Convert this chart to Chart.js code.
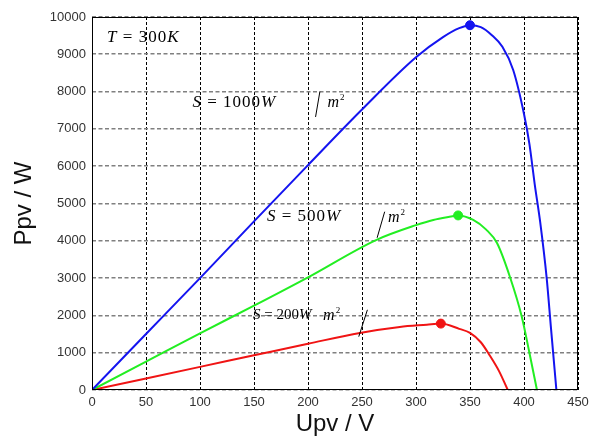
<!DOCTYPE html>
<html>
<head>
<meta charset="utf-8">
<script src="https://cdn.jsdelivr.net/npm/chart.js@4"></script>
<style>
  body { margin: 0; background: #fff; }
  #wrap { width: 595px; height: 439px; }
</style>
</head>
<body>
<div id="wrap"><canvas id="pvChart" width="595" height="439"></canvas></div>
<script>
// curva P-U do painel, T = 300K
const xTicks = [0, 50, 100, 150, 200, 250, 300, 350, 400, 450];
const yTicks = [0, 1000, 2000, 3000, 4000, 5000, 6000, 7000, 8000, 9000, 10000];

const u1000 = [0, 50, 100, 150, 200, 250, 300, 325, 340, 350, 360, 370, 380, 390, 400, 405, 410, 415, 421, 425, 430];
const p1000 = [0, 1500, 3000, 4520, 6030, 7520, 8920, 9460, 9700, 9780, 9730, 9520, 9200, 8580, 7400, 6600, 5500, 4500, 3000, 1650, 0];

const u500 = [0, 50, 100, 150, 200, 263, 300, 316, 330, 339, 353, 365, 375, 387, 398, 405, 412];
const p500 = [0, 760, 1520, 2260, 3020, 4020, 4420, 4560, 4640, 4680, 4560, 4300, 3940, 3030, 1960, 1000, 0];

const u200 = [0, 50, 100, 150, 200, 248, 285, 310, 323, 340, 350, 360, 368, 377, 385];
const p200 = [0, 310, 620, 930, 1240, 1530, 1690, 1750, 1780, 1640, 1530, 1280, 940, 500, 0];

// pontos de máxima potência
const mppU = [350, 339, 323];
const mppP = [9780, 4680, 1780];

const colors = ["#1414f0", "#22ee22", "#f01414"];

function pts(us, ps) {
  return us.map((u, i) => ({ x: u, y: ps[i] }));
}

function curve(us, ps, color) {
  return {
    data: pts(us, ps),
    borderColor: color,
    borderWidth: 2,
    pointRadius: 0,
    fill: false,
    cubicInterpolationMode: 'monotone'
  };
}

function mpp(i) {
  return {
    data: [{ x: mppU[i], y: mppP[i] }],
    showLine: false,
    pointRadius: 4.5,
    pointBackgroundColor: colors[i],
    pointBorderColor: colors[i]
  };
}

// rótulos: [texto, itálico]
const labels = [
  { x: 14, y: 9460, size: 17, sp: 1, runs: [["T", 1], [" = 300", 0], ["K", 1]] },
  { x: 93, y: 7720, size: 17, sp: 1, runs: [["S", 1], [" = 1000", 0], ["W", 1]] },
  { x: 162, y: 4640, size: 17, sp: 1, runs: [["S", 1], [" = 500", 0], ["W", 1]] },
  { x: 149, y: 2010, size: 15, sp: 0, runs: [["S", 1], [" = 200", 0], ["W", 1]] }
];
const units = [
  { x: 218, y: 7720, s: [211, 8000, 207, 7320] },
  { x: 274, y: 4640, s: [271, 4780, 264, 4080] },
  { x: 214, y: 2010, s: [255, 2150, 247, 1430] }
];

function drawRuns(ctx, l, x, y) {
  ctx.letterSpacing = l.sp + 'px';
  l.runs.forEach(r => {
    ctx.font = (r[1] ? 'italic ' : '') + l.size + 'px "Liberation Serif"';
    ctx.fillText(r[0], x, y);
    x += ctx.measureText(r[0]).width;
  });
  ctx.letterSpacing = '0px';
}

const annot = {
  id: 'annot',
  afterDatasetsDraw(chart) {
    const ctx = chart.ctx;
    const sx = chart.scales.x, sy = chart.scales.y;
    const a = chart.chartArea;
    ctx.save();
    ctx.fillStyle = '#000';
    ctx.textBaseline = 'middle';
    labels.forEach(l => drawRuns(ctx, l, sx.getPixelForValue(l.x), sy.getPixelForValue(l.y)));
    units.forEach(u => {
      const px = sx.getPixelForValue(u.x), py = sy.getPixelForValue(u.y);
      ctx.font = 'italic 16px "Liberation Serif"';
      ctx.fillText('m', px, py + 1);
      const w = ctx.measureText('m').width;
      ctx.font = '9px "Liberation Serif"';
      ctx.fillText('2', px + w + 1, py - 4);
      ctx.strokeStyle = '#000';
      ctx.lineWidth = 1;
      ctx.beginPath();
      ctx.moveTo(sx.getPixelForValue(u.s[0]), sy.getPixelForValue(u.s[1]));
      ctx.lineTo(sx.getPixelForValue(u.s[2]), sy.getPixelForValue(u.s[3]));
      ctx.stroke();
    });
    // moldura
    ctx.strokeStyle = '#000';
    ctx.lineWidth = 1;
    ctx.strokeRect(a.left + 0.5, a.top + 0.5, a.right - a.left - 1, a.bottom - a.top - 1);
    ctx.restore();
  }
};

new Chart(document.getElementById('pvChart'), {
  type: 'line',
  data: {
    datasets: [
      curve(u1000, p1000, colors[0]),
      curve(u500, p500, colors[1]),
      curve(u200, p200, colors[2]),
      mpp(0), mpp(1), mpp(2)
    ]
  },
  options: {
    responsive: false,
    animation: false,
    layout: { padding: { top: 17, right: 17, left: 0, bottom: 0 } },
    plugins: { legend: { display: false }, tooltip: { enabled: false } },
    scales: {
      x: {
        type: 'linear',
        min: 0,
        max: 450,
        afterBuildTicks: s => { s.ticks = xTicks.map(v => ({ value: v })); },
        afterFit: s => { s.height = 49; },
        ticks: { font: { family: '"Liberation Sans"', size: 13 }, color: '#333', padding: 5, maxRotation: 0, callback: v => String(v) },
        grid: { color: '#000', lineWidth: 1, drawTicks: false },
        border: { display: false, dash: [3, 2] },
        title: { display: true, text: 'Upv / V', font: { family: '"Liberation Sans"', size: 24 }, color: '#111', padding: { top: 0, bottom: 0 } }
      },
      y: {
        min: 0,
        max: 10000,
        afterBuildTicks: s => { s.ticks = yTicks.map(v => ({ value: v })); },
        afterFit: s => { s.width = 92; },
        ticks: { font: { family: '"Liberation Sans"', size: 13 }, color: '#333', padding: 6, callback: v => String(v) },
        grid: { color: '#808080', lineWidth: 1.6, drawTicks: false },
        border: { display: false, dash: [4, 2.5] },
        title: { display: true, text: 'Ppv / W', font: { family: '"Liberation Sans"', size: 24 }, color: '#111', padding: { top: 10, bottom: 0 } }
      }
    }
  },
  plugins: [annot]
});
</script>
</body>
</html>
